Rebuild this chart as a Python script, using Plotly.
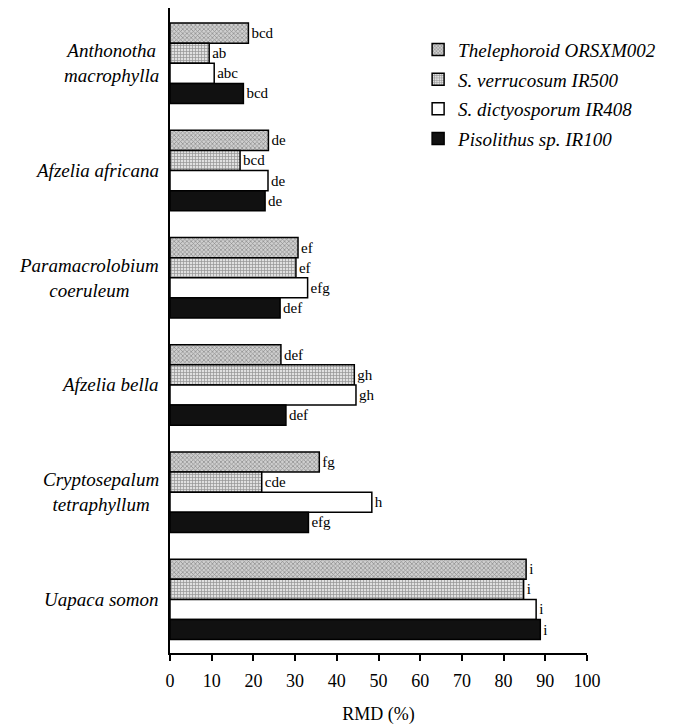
import plotly.graph_objects as go

species = ["Anthonotha<br>macrophylla", "Afzelia africana", "Paramacrolobium<br>coeruleum",
           "Afzelia bella", "Cryptosepalum<br>tetraphyllum", "Uapaca somon"]

series_names = ["Thelephoroid ORSXM002", "S. verrucosum IR500",
                "S. dictyosporum IR408", "Pisolithus sp. IR100"]

thelephoroid = [18.8, 23.6, 30.7, 26.6, 35.8, 85.4]
verrucosum = [9.4, 16.8, 30.2, 44.2, 22.0, 84.8]
dictyosporum = [10.6, 23.5, 33.0, 44.6, 48.4, 87.8]
pisolithus = [17.6, 22.8, 26.4, 27.8, 33.2, 88.8]

letters_thel = ["bcd", "de", "ef", "def", "fg", "i"]
letters_verr = ["ab", "bcd", "ef", "gh", "cde", "i"]
letters_dict = ["abc", "de", "efg", "gh", "h", "i"]
letters_piso = ["bcd", "de", "def", "def", "efg", "i"]

x_ticks = list(range(0, 101, 10))

SERIF = "Liberation Serif, Times New Roman, serif"

styles = [
    dict(color="#b0b0b0", pattern=dict(shape="x", fgcolor="#444444", bgcolor="#cfcfcf", size=3, solidity=0.4)),
    dict(color="#c0c0c0", pattern=dict(shape="+", fgcolor="#444444", bgcolor="#e0e0e0", size=3, solidity=0.4)),
    dict(color="white"),
    dict(color="#111111"),
]

values = [thelephoroid, verrucosum, dictyosporum, pisolithus]
letters = [letters_thel, letters_verr, letters_dict, letters_piso]

fig = go.Figure()
for i, (name, vals, lets, st) in enumerate(zip(series_names, values, letters, styles)):
    marker = dict(line=dict(color="black", width=1.5), **st)
    fig.add_trace(go.Bar(
        y=species, x=vals, orientation="h", name=name, legendgroup=f"g{i}",
        text=lets, textposition="outside", cliponaxis=False,
        textfont=dict(family=SERIF, size=15, color="black"),
        marker=marker,
    ))

for sp in species:
    fig.add_annotation(x=-0.022, xref="paper", y=sp, yref="y", text=sp,
                       xanchor="right", yanchor="middle", align="center",
                       showarrow=False,
                       font=dict(family=SERIF, size=19, color="black", style="italic"))

fig.update_layout(
    width=670, height=717,
    margin=dict(l=162, r=91, t=0, b=72),
    paper_bgcolor="white", plot_bgcolor="white",
    barmode="group", bargap=0.25, bargroupgap=0,
    showlegend=True,
    legend=dict(x=0.595, y=0.965, xanchor="left", yanchor="top",
                font=dict(family=SERIF, size=19, color="black", style="italic"),
                bgcolor="rgba(0,0,0,0)", tracegroupgap=2),
    xaxis=dict(range=[0, 100], tickvals=x_ticks, ticks="outside", ticklen=6,
               tickcolor="black", tickwidth=1.5, showline=True, linecolor="black",
               linewidth=1.5, showgrid=False, zeroline=False, ticklabelstandoff=5,
               tickfont=dict(family=SERIF, size=18, color="black"),
               title=dict(text="RMD (%)", font=dict(family=SERIF, size=18, color="black"),
                          standoff=18)),
    yaxis=dict(categoryorder="array", categoryarray=species, range=[5.5, -0.516],
               showticklabels=False, ticks="", showline=True, linecolor="black",
               linewidth=1.5, showgrid=False, zeroline=False),
    font=dict(family=SERIF, color="black"),
)

fig.write_html("out.html")
